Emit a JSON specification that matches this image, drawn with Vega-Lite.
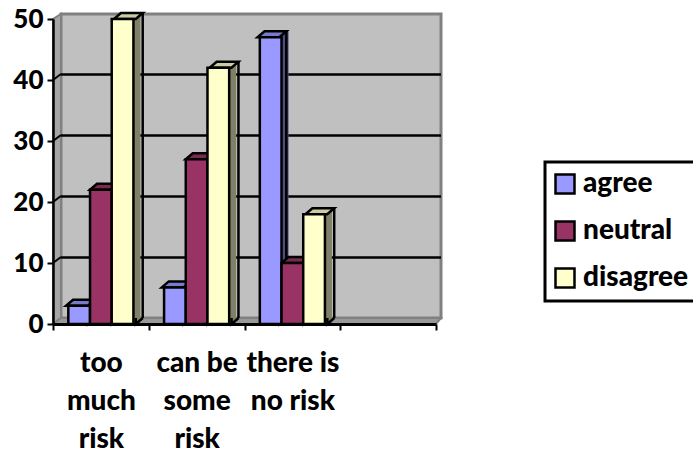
{
  "$schema": "https://vega.github.io/schema/vega-lite/v6.json",
  "autosize": {"type": "none"},
  "padding": {"left": 61, "top": 14, "right": 252, "bottom": 137},
  "width": 380,
  "height": 304,
  "background": "white",
  "view": {"fill": "#c0c0c0", "stroke": "#808080", "strokeWidth": 3},
  "config": {"font": "Lato", "legend": {"strokeWidth": 3}},
  "datasets": {
    "bars": [
      {"category": "too much risk", "response": "agree", "value": 3},
      {"category": "too much risk", "response": "neutral", "value": 22},
      {"category": "too much risk", "response": "disagree", "value": 50},
      {"category": "can be some risk", "response": "agree", "value": 6},
      {"category": "can be some risk", "response": "neutral", "value": 27},
      {"category": "can be some risk", "response": "disagree", "value": 42},
      {"category": "there is no risk", "response": "agree", "value": 47},
      {"category": "there is no risk", "response": "neutral", "value": 10},
      {"category": "there is no risk", "response": "disagree", "value": 18}
    ],
    "gridValues": [{"value": 10}, {"value": 20}, {"value": 30}, {"value": 40}],
    "origin": [{"category": "too much risk", "value": 0}]
  },
  "layer": [
    {
      "description": "left wall of the 3D box, carrying the axes",
      "data": {"name": "origin"},
      "mark": {"type": "point", "shape": "M-47.9 0 L-39.9 -6 L-39.9 -310 L-47.9 -305 Z", "size": 4, "filled": true, "opacity": 1, "fill": "#a6a6a6", "stroke": "#808080", "strokeWidth": 2},
      "encoding": {
        "x": {
          "field": "category",
          "type": "nominal",
          "title": null,
          "scale": {"domain": ["too much risk", "can be some risk", "there is no risk", " "], "range": [-8, 375], "paddingInner": 0, "paddingOuter": 0},
          "axis": {
            "orient": "bottom",
            "offset": 6,
            "zindex": 1,
            "grid": false,
            "domainColor": "black",
            "domainWidth": 3,
            "tickColor": "black",
            "tickWidth": 2,
            "tickSize": 6,
            "tickBand": "extent",
            "labelAngle": 0,
            "labelFont": "Lato",
            "labelFontWeight": 900,
            "labelFontSize": 28,
            "labelColor": "black",
            "labelLineHeight": 38,
            "labelPadding": 19,
            "labelOverlap": false,
            "labelBound": false,
            "labelFlush": false,
            "labelLimit": 0,
            "labelExpr": "datum.label == 'too much risk' ? ['too', 'much', 'risk'] : datum.label == 'can be some risk' ? ['can be', 'some', 'risk'] : datum.label == 'there is no risk' ? ['there is', 'no risk'] : ''"
          }
        },
        "y": {
          "field": "value",
          "type": "quantitative",
          "title": null,
          "scale": {"domain": [0, 50], "range": [310, 5], "nice": false, "zero": true},
          "axis": {
            "orient": "left",
            "offset": 8,
            "zindex": 1,
            "values": [0, 10, 20, 30, 40, 50],
            "grid": false,
            "domainColor": "black",
            "domainWidth": 2.5,
            "tickColor": "black",
            "tickWidth": 2,
            "tickSize": 6,
            "labelFont": "Lato",
            "labelFontWeight": 900,
            "labelFontSize": 26,
            "labelColor": "black",
            "labelPadding": 4,
            "labelFlush": false,
            "labelBound": false,
            "labelOverlap": false
          }
        }
      }
    },
    {
      "description": "floor of the 3D box",
      "data": {"name": "origin"},
      "mark": {"type": "point", "shape": "M-47.9 0 L-39.9 -6 L340.1 -6 L335.1 0 Z", "size": 4, "filled": true, "opacity": 1, "fill": "#999999", "stroke": "#808080", "strokeWidth": 2},
      "encoding": {
        "x": {"field": "category", "type": "nominal"},
        "y": {"field": "value", "type": "quantitative"}
      }
    },
    {
      "description": "gridlines on the back wall",
      "data": {"name": "gridValues"},
      "mark": {"type": "rule", "color": "black", "strokeWidth": 2.5, "yOffset": -5.5},
      "encoding": {"y": {"field": "value", "type": "quantitative"}}
    },
    {
      "description": "gridline stubs across the left wall",
      "data": {"name": "gridValues"},
      "transform": [{"calculate": "'too much risk'", "as": "category"}],
      "mark": {"type": "point", "shape": "M-47.9 0 L-39.9 -6", "size": 4, "filled": false, "opacity": 1, "stroke": "black", "strokeWidth": 2},
      "encoding": {
        "x": {"field": "category", "type": "nominal"},
        "y": {"field": "value", "type": "quantitative"}
      }
    },
    {
      "description": "shaded side of each bar, shifted back by the box depth",
      "data": {"name": "bars"},
      "mark": {"type": "bar", "yOffset": -6, "y2Offset": -6},
      "encoding": {
        "x": {"field": "category", "type": "nominal"},
        "xOffset": {"field": "response", "type": "nominal", "scale": {"domain": ["agree", "neutral", "disagree"], "range": [7, 102.75], "paddingInner": 0, "paddingOuter": 0.706}},
        "y": {"field": "value", "type": "quantitative", "stack": null},
        "fill": {"field": "response", "type": "nominal", "legend": null, "scale": {"domain": ["agree", "neutral", "disagree"], "range": ["#4d4d80", "#4d1a33", "#808066"]}}
      }
    },
    {
      "description": "lower corner of each side face",
      "data": {"name": "bars"},
      "transform": [{"calculate": "0", "as": "base"}],
      "mark": {"type": "point", "shape": "M18 -6 L11 0 L11 -6", "size": 4, "filled": true, "opacity": 1, "stroke": "black", "strokeWidth": 2.5},
      "encoding": {
        "x": {"field": "category", "type": "nominal"},
        "xOffset": {"field": "response", "type": "nominal", "scale": {"type": "point", "domain": ["agree", "neutral", "disagree"], "range": [0, 95.75], "padding": 1.206}},
        "y": {"field": "base", "type": "quantitative"},
        "fill": {"field": "response", "type": "nominal", "legend": null, "scale": {"domain": ["agree", "neutral", "disagree"], "range": ["#4d4d80", "#4d1a33", "#808066"]}}
      }
    },
    {
      "description": "outer vertical edge of each side face",
      "data": {"name": "bars"},
      "transform": [{"calculate": "0", "as": "base"}],
      "mark": {"type": "rule", "color": "black", "strokeWidth": 2.5, "yOffset": -6, "y2Offset": -6},
      "encoding": {
        "x": {"field": "category", "type": "nominal"},
        "xOffset": {"field": "response", "type": "nominal", "scale": {"type": "point", "domain": ["agree", "neutral", "disagree"], "range": [17.9, 113.65], "padding": 1.206}},
        "y": {"field": "value", "type": "quantitative"},
        "y2": {"field": "base"}
      }
    },
    {
      "description": "top face of each bar",
      "data": {"name": "bars"},
      "mark": {"type": "point", "shape": "M-10.9 0 L10.9 0 L17.9 -6 L-3.9 -6 Z", "size": 4, "filled": true, "opacity": 1, "stroke": "black", "strokeWidth": 2.5},
      "encoding": {
        "x": {"field": "category", "type": "nominal"},
        "xOffset": {"field": "response", "type": "nominal", "scale": {"type": "point", "domain": ["agree", "neutral", "disagree"], "range": [0, 95.75], "padding": 1.206}},
        "y": {"field": "value", "type": "quantitative"},
        "fill": {"field": "response", "type": "nominal", "legend": null, "scale": {"domain": ["agree", "neutral", "disagree"], "range": ["#7a7acc", "#7a2952", "#cccca3"]}}
      }
    },
    {
      "description": "front face of each bar, with the legend",
      "data": {"name": "bars"},
      "mark": {"type": "bar", "stroke": "black", "strokeWidth": 2.5},
      "encoding": {
        "x": {"field": "category", "type": "nominal"},
        "xOffset": {"field": "response", "type": "nominal", "scale": {"domain": ["agree", "neutral", "disagree"], "range": [0, 95.75], "paddingInner": 0, "paddingOuter": 0.706}},
        "y": {"field": "value", "type": "quantitative", "stack": null},
        "fill": {
          "field": "response",
          "type": "nominal",
          "title": null,
          "scale": {"domain": ["agree", "neutral", "disagree"], "range": ["#9999ff", "#993366", "#ffffcc"]},
          "legend": {
            "orient": "none",
            "legendX": 484,
            "legendY": 148,
            "strokeColor": "black",
            "fillColor": "white",
            "padding": 8,
            "symbolType": "square",
            "symbolSize": 361,
            "symbolStrokeColor": "black",
            "symbolStrokeWidth": 2.5,
            "symbolOffset": -2,
            "labelFont": "Lato",
            "labelFontWeight": 900,
            "labelFontSize": 28,
            "labelColor": "black",
            "labelOffset": 4,
            "labelLimit": 0,
            "rowPadding": 17
          }
        }
      }
    }
  ],
  "resolve": {"scale": {"fill": "independent", "xOffset": "independent"}}
}
